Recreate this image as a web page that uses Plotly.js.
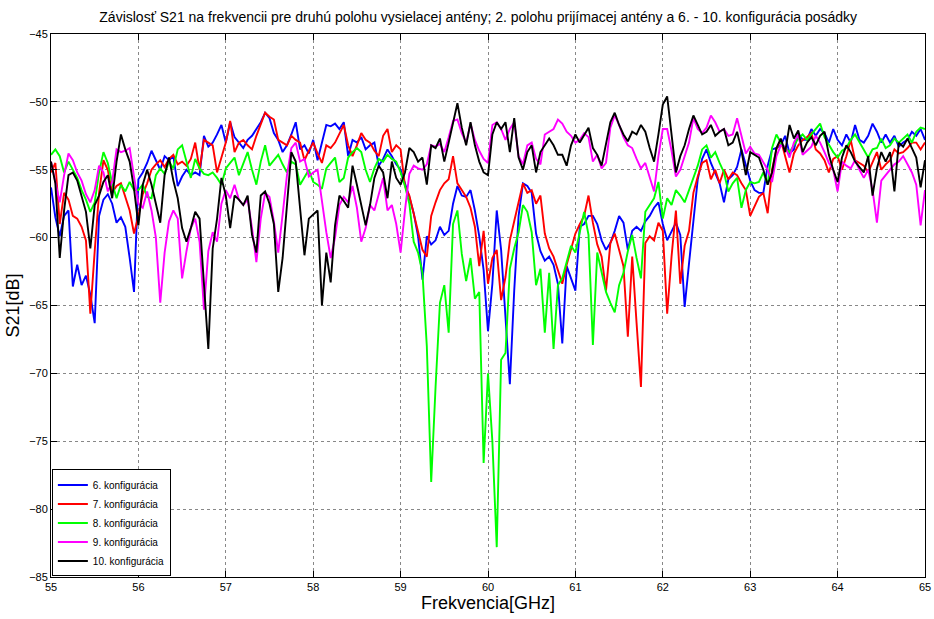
<!DOCTYPE html>
<html>
<head>
<meta charset="utf-8">
<script src="https://cdn.plot.ly/plotly-3.0.1.min.js"></script>
<style>html,body{margin:0;padding:0;background:#fff;}#chart{width:934px;height:619px;}</style>
</head>
<body>
<div id="chart"></div>
<script>
// Frequency grid [GHz]
const freq = [
55.00,55.05,55.10,55.15,55.20,55.25,55.30,55.35,55.40,55.45,55.50,55.55,55.60,55.65,55.70,55.75,55.80,55.85,55.90,55.95,
56.00,56.05,56.10,56.15,56.20,56.25,56.30,56.35,56.40,56.45,56.50,56.55,56.60,56.65,56.70,56.75,56.80,56.85,56.90,56.95,
57.00,57.05,57.10,57.15,57.20,57.25,57.30,57.35,57.40,57.45,57.50,57.55,57.60,57.65,57.70,57.75,57.80,57.85,57.90,57.95,
58.00,58.05,58.10,58.15,58.20,58.25,58.30,58.35,58.40,58.45,58.50,58.55,58.60,58.65,58.70,58.75,58.80,58.85,58.90,58.95,
59.00,59.05,59.10,59.15,59.20,59.25,59.30,59.35,59.40,59.45,59.50,59.55,59.60,59.65,59.70,59.75,59.80,59.85,59.90,59.95,
60.00,60.05,60.10,60.15,60.20,60.25,60.30,60.35,60.40,60.45,60.50,60.55,60.60,60.65,60.70,60.75,60.80,60.85,60.90,60.95,
61.00,61.05,61.10,61.15,61.20,61.25,61.30,61.35,61.40,61.45,61.50,61.55,61.60,61.65,61.70,61.75,61.80,61.85,61.90,61.95,
62.00,62.05,62.10,62.15,62.20,62.25,62.30,62.35,62.40,62.45,62.50,62.55,62.60,62.65,62.70,62.75,62.80,62.85,62.90,62.95,
63.00,63.05,63.10,63.15,63.20,63.25,63.30,63.35,63.40,63.45,63.50,63.55,63.60,63.65,63.70,63.75,63.80,63.85,63.90,63.95,
64.00,64.05,64.10,64.15,64.20,64.25,64.30,64.35,64.40,64.45,64.50,64.55,64.60,64.65,64.70,64.75,64.80,64.85,64.90,64.95,
65.00];

// S21 [dB], 6. konfigurácia
const s21_k6 = [
-56.3,-58.5,-59.9,-58.4,-58.0,-63.6,-62.0,-63.5,-62.8,-64.2,-66.3,-58.4,-57.2,-56.8,-57.5,-58.9,-58.5,-59.2,-61.5,-64.0,
-55.7,-55.2,-54.5,-53.6,-54.3,-55.0,-54.0,-54.3,-54.0,-56.2,-55.5,-55.0,-55.4,-55.2,-55.4,-52.5,-53.3,-53.0,-52.4,-51.7,
-53.0,-51.5,-52.6,-53.0,-53.4,-52.8,-52.5,-52.0,-51.5,-50.8,-51.2,-52.3,-52.8,-53.7,-53.2,-52.4,-51.5,-53.5,-53.2,-53.8,
-52.8,-54.3,-53.0,-51.7,-51.8,-51.6,-52.0,-51.5,-54.0,-52.8,-53.0,-52.6,-53.5,-53.2,-53.0,-54.7,-54.2,-53.5,-54.0,-54.6,
-55.0,-56.0,-57.0,-58.2,-59.9,-63.1,-59.9,-60.5,-60.2,-59.2,-59.8,-59.5,-57.5,-56.2,-56.9,-57.0,-56.5,-58.0,-59.9,
-62.4,-66.9,-63.4,-58.0,-60.9,-66.0,-70.8,-63.9,-58.4,-56.0,-56.2,-56.7,-59.7,-61.0,-61.7,-61.4,-62.0,-63.4,-67.8,-62.1,
-63.0,-63.9,-59.2,-59.0,-58.4,-58.4,-59.0,-60.2,-60.9,-60.4,-59.5,-58.4,-58.9,-60.9,-59.5,-59.2,-59.5,-58.8,-58.4,-57.8,
-57.4,-59.0,-60.2,-59.5,-58.9,-59.8,-65.1,-61.9,-58.9,-55.7,-54.2,-53.5,-54.5,-55.3,-56.0,-57.4,-55.7,-55.4,-54.8,-53.5,
-54.7,-55.8,-56.5,-56.7,-56.7,-54.7,-53.5,-53.4,-53.2,-52.5,-53.8,-53.5,-52.3,-52.8,-52.8,-52.0,-52.5,-52.0,-52.3,
-53.0,-52.0,-52.8,-53.2,-52.4,-53.0,-51.7,-52.8,-53.0,-52.5,-51.6,-52.2,-53.0,-52.4,-53.0,-52.5,-53.3,-53.0,-52.8,-52.2,
-52.5,-52.0,-52.8];

// S21 [dB], 7. konfigurácia
const s21_k7 = [
-55.2,-54.5,-59.0,-56.7,-57.2,-58.4,-58.6,-59.2,-60.2,-65.6,-61.0,-56.7,-54.3,-55.0,-56.7,-56.2,-56.0,-57.0,-58.0,-59.7,
-58.4,-56.8,-56.0,-55.0,-54.6,-54.3,-54.8,-54.2,-53.9,-54.6,-54.4,-54.7,-54.2,-53.0,-55.0,-52.8,-53.0,-53.2,-55.2,-54.0,
-53.0,-51.4,-53.7,-53.0,-52.8,-53.2,-53.5,-52.5,-51.7,-50.8,-51.1,-51.3,-52.8,-53.0,-53.2,-52.5,-52.8,-53.0,-54.3,-53.6,
-53.0,-53.8,-54.5,-53.2,-53.4,-53.0,-52.3,-51.7,-53.2,-54.0,-53.2,-52.3,-52.8,-53.0,-53.6,-54.0,-52.5,-52.0,-53.7,-53.2,
-53.5,-56.2,-56.9,-58.2,-59.7,-60.9,-61.4,-58.4,-57.4,-56.5,-56.0,-55.7,-54.0,-56.0,-56.5,-57.0,-57.8,-59.2,-62.1,
-59.5,-63.4,-61.5,-60.9,-64.6,-62.9,-60.2,-58.8,-57.5,-56.0,-56.7,-56.5,-57.5,-56.9,-59.7,-60.8,-61.4,-62.4,-63.4,-62.0,
-60.9,-59.7,-59.0,-58.4,-56.9,-58.9,-60.5,-61.4,-63.9,-60.4,-59.7,-61.0,-62.1,-67.3,-61.4,-66.3,-71.0,-60.4,-59.9,-60.2,
-58.9,-59.5,-65.6,-61.4,-58.0,-63.4,-60.6,-59.5,-56.7,-55.5,-54.5,-54.3,-55.7,-55.0,-56.0,-55.0,-55.7,-55.2,-55.4,-56.0,
-56.5,-58.4,-57.7,-57.0,-56.7,-58.2,-55.0,-53.5,-52.8,-54.0,-55.2,-53.8,-53.2,-52.8,-52.6,-52.3,-53.5,-53.8,-54.3,
-55.2,-54.2,-54.0,-55.0,-54.0,-52.8,-54.3,-54.5,-54.7,-55.2,-54.5,-53.7,-55.0,-54.6,-54.3,-53.5,-53.8,-53.7,-53.4,-53.0,
-53.0,-53.5,-53.0];

// S21 [dB], 8. konfigurácia
const s21_k8 = [
-53.9,-53.5,-54.0,-55.2,-54.4,-55.0,-55.6,-56.5,-57.2,-58.1,-57.4,-55.2,-53.7,-54.5,-56.0,-57.1,-56.1,-56.6,-55.9,-56.5,
-56.5,-56.1,-57.0,-57.1,-55.4,-54.9,-55.3,-54.4,-54.9,-53.5,-53.2,-54.4,-55.6,-54.2,-54.9,-55.3,-55.4,-55.2,-55.6,-56.1,
-54.9,-54.5,-54.1,-55.4,-54.5,-53.7,-55.0,-56.1,-54.4,-53.2,-54.7,-54.3,-53.9,-54.6,-55.2,-54.4,-54.6,-56.1,-55.5,-55.0,
-55.9,-56.1,-56.4,-54.9,-54.5,-54.1,-55.9,-55.6,-54.1,-53.7,-53.4,-53.7,-55.0,-55.9,-54.9,-54.2,-54.4,-53.9,-54.2,-54.4,
-55.2,-56.2,-57.5,-60.3,-61.1,-62.6,-68.0,-78.0,-71.0,-64.8,-63.5,-67.0,-59.0,-58.0,-61.2,-63.2,-61.5,-64.5,-64.0,-76.6,
-70.0,-75.0,-82.8,-69.0,-68.5,-62.3,-60.8,-59.6,-57.6,-58.1,-59.6,-63.5,-62.3,-67.0,-62.6,-68.2,-63.5,-63.0,-61.8,-60.6,
-61.1,-59.5,-58.1,-59.8,-67.9,-61.1,-62.5,-64.0,-64.8,-65.5,-63.5,-62.6,-61.0,-59.8,-61.5,-63.0,-58.1,-57.6,-57.1,-55.9,
-58.6,-57.1,-57.6,-56.5,-56.9,-57.4,-56.5,-55.6,-54.7,-53.5,-53.2,-54.1,-53.7,-54.5,-55.2,-56.6,-56.0,-55.6,-57.8,-56.5,
-55.9,-56.0,-55.9,-55.2,-56.1,-53.4,-52.4,-53.0,-53.4,-53.7,-53.2,-52.7,-52.4,-52.8,-52.4,-52.0,-51.6,-52.6,-53.2,-53.7,
-54.1,-53.6,-53.4,-52.8,-52.4,-53.0,-53.6,-54.1,-53.5,-53.4,-52.7,-53.4,-53.2,-52.7,-53.0,-52.7,-52.4,-53.0,-52.2,-51.9,
-52.0];

// S21 [dB], 9. konfigurácia
const s21_k9 = [
-54.4,-56.0,-57.4,-55.4,-53.8,-54.3,-55.2,-55.8,-56.8,-57.4,-56.5,-54.7,-55.2,-56.6,-55.9,-53.5,-53.7,-53.6,-53.4,-55.5,
-57.5,-57.8,-56.6,-58.0,-60.0,-64.8,-61.1,-58.8,-58.0,-58.6,-63.0,-61.0,-59.3,-58.6,-60.3,-65.3,-61.0,-59.6,-60.3,-57.5,
-56.5,-57.1,-56.1,-57.2,-57.6,-57.2,-59.3,-61.8,-58.6,-56.7,-57.0,-58.8,-61.1,-58.3,-55.4,-53.4,-53.0,-54.4,-54.2,-55.5,
-55.2,-55.0,-57.3,-59.6,-61.5,-60.0,-57.6,-57.0,-57.4,-56.2,-57.8,-60.3,-59.3,-57.6,-58.0,-56.8,-55.6,-58.0,-57.6,-59.0,
-61.1,-58.0,-55.3,-54.7,-54.9,-55.0,-54.6,-53.2,-53.3,-53.1,-53.7,-52.6,-51.4,-51.3,-52.3,-53.0,-51.6,-52.8,-53.6,-54.2,
-54.5,-51.7,-51.5,-52.0,-52.8,-52.0,-51.5,-54.0,-54.6,-53.2,-53.0,-54.2,-54.6,-52.4,-52.2,-52.0,-51.3,-51.6,-52.2,-52.5,
-53.0,-52.8,-52.3,-52.6,-54.4,-53.9,-54.9,-54.5,-51.9,-51.0,-51.7,-52.6,-53.2,-53.4,-54.2,-54.9,-54.5,-55.6,-56.6,-54.0,
-52.0,-52.0,-53.6,-55.5,-55.0,-54.0,-53.0,-51.2,-52.0,-52.3,-51.9,-51.0,-51.5,-52.2,-52.0,-52.5,-52.4,-51.2,-52.6,-53.8,
-53.3,-53.8,-53.9,-54.4,-55.0,-55.9,-54.0,-53.2,-53.3,-54.1,-53.0,-52.4,-53.9,-53.6,-53.3,-52.5,-53.0,-53.7,-54.5,-55.0,
-56.6,-54.4,-54.7,-54.9,-54.3,-55.0,-55.6,-55.0,-56.5,-58.9,-55.8,-55.4,-55.0,-54.6,-54.4,-54.0,-54.6,-55.2,-56.1,-59.1,
-56.5];

// S21 [dB], 10. konfigurácia
const s21_k10 = [
-54.4,-56.0,-61.5,-58.0,-55.4,-55.2,-55.8,-56.9,-58.1,-60.8,-57.6,-56.9,-55.9,-55.4,-57.1,-54.4,-52.4,-53.5,-54.4,-56.4,
-59.1,-56.1,-55.0,-56.1,-57.6,-58.9,-55.4,-54.1,-55.8,-57.1,-59.3,-60.3,-59.3,-58.1,-58.6,-63.5,-68.2,-60.8,-58.6,-55.6,
-56.9,-59.3,-56.9,-57.2,-57.6,-56.9,-59.8,-61.1,-56.9,-56.6,-57.5,-59.0,-64.0,-61.5,-57.4,-53.7,-54.4,-57.6,-61.3,-58.6,
-58.3,-58.0,-65.0,-61.1,-63.3,-59.1,-56.9,-57.3,-57.8,-54.7,-56.1,-57.5,-59.1,-57.6,-55.6,-54.7,-55.2,-57.1,-54.4,-55.6,
-56.1,-55.2,-53.4,-53.7,-54.4,-54.1,-56.1,-53.2,-53.4,-52.7,-54.4,-53.0,-51.5,-50.1,-51.9,-53.2,-51.5,-53.2,-54.4,-55.2,
-55.4,-52.4,-51.5,-52.0,-51.5,-53.7,-51.2,-54.1,-55.0,-53.7,-53.2,-55.2,-53.7,-53.2,-52.7,-53.2,-53.9,-53.9,-54.7,-53.2,
-52.4,-53.0,-52.4,-51.9,-53.4,-53.9,-54.7,-53.2,-51.5,-50.8,-51.7,-52.4,-52.9,-52.2,-52.4,-51.7,-52.2,-53.4,-54.4,-52.4,
-50.2,-49.6,-52.5,-55.2,-54.0,-53.2,-52.0,-51.0,-51.7,-52.4,-52.2,-51.7,-52.5,-52.2,-52.0,-53.2,-53.0,-52.2,-53.6,-55.4,
-53.7,-53.9,-54.1,-55.0,-56.1,-55.2,-53.4,-52.7,-53.7,-51.7,-52.7,-52.1,-53.7,-53.0,-52.6,-53.2,-52.5,-52.2,-53.9,-55.0,
-55.9,-54.1,-53.2,-53.7,-54.4,-54.8,-55.2,-54.0,-56.9,-54.9,-53.7,-54.4,-53.7,-56.6,-53.0,-53.3,-52.7,-53.4,-54.1,-56.3,
-54.3];

const seriesNames = ['6. konfigurácia','7. konfigurácia','8. konfigurácia','9. konfigurácia','10. konfigurácia'];
const seriesValues = [s21_k6, s21_k7, s21_k8, s21_k9, s21_k10];
const seriesColors = ['#0000ff','#ff0000','#00ff00','#ff00ff','#000000'];

const traces = seriesValues.map((vals, i) => ({
  x: freq, y: vals, type: 'scatter', mode: 'lines', name: seriesNames[i],
  line: {color: seriesColors[i], width: 1.9}
}));

const axisCommon = {
  showline: true, linecolor: '#000', linewidth: 1, mirror: 'ticks',
  ticks: 'inside', ticklen: 6, tickcolor: '#000',
  showgrid: true, gridcolor: '#888', griddash: 'dot', gridwidth: 1,
  zeroline: false, ticklabeloverflow: 'allow',
  tickfont: {family: 'Liberation Sans, Arial, sans-serif', size: 11, color: '#000'}
};

const layout = {
  width: 934, height: 619,
  margin: {l: 51, r: 9, t: 34, b: 42, pad: 0},
  paper_bgcolor: '#fff', plot_bgcolor: '#fff',
  font: {family: 'Liberation Sans, Arial, sans-serif', color: '#000'},
  title: {text: 'Závislosť S21 na frekvencii pre druhú polohu vysielacej antény; 2. polohu prijímacej antény a 6. - 10. konfigurácia posádky',
          font: {size: 14, color: '#000'}, x: 0.512, xanchor: 'center', y: 0.972, yanchor: 'middle'},
  xaxis: Object.assign({}, axisCommon, {range: [55, 65], dtick: 1, tick0: 55,
    title: {text: 'Frekvencia[GHz]', font: {size: 18}, standoff: 4}}),
  yaxis: Object.assign({}, axisCommon, {range: [-85, -45], dtick: 5, tick0: -85,
    title: {text: 'S21[dB]', font: {size: 18}, standoff: 4}}),
  showlegend: true,
  legend: {x: 0.001, y: 0.001, xanchor: 'left', yanchor: 'bottom', bgcolor: '#fff',
    bordercolor: '#000', borderwidth: 1, font: {size: 10, color: '#000'}, itemwidth: 30,
    tracegroupgap: 0}
};

Plotly.newPlot('chart', traces, layout, {displayModeBar: false, staticPlot: true});
</script>
</body>
</html>
